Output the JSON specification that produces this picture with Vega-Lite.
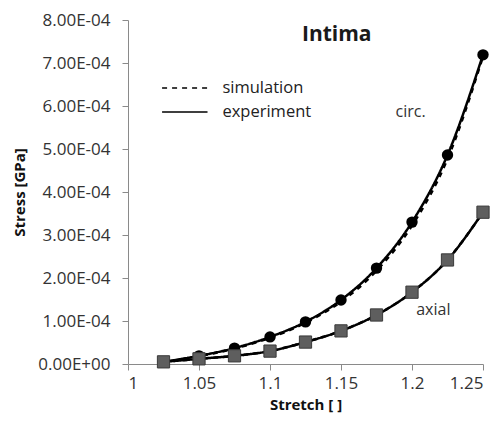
{
  "$schema": "https://vega.github.io/schema/vega-lite/v6.json",
  "width": 355,
  "height": 344,
  "autosize": {"type": "none"},
  "padding": {"left": 128, "top": 20, "right": 20, "bottom": 65},
  "background": "white",
  "config": {
    "view": {"stroke": null},
    "font": "Open Sans",
    "axis": {"grid": false, "domainColor": "#8a8a8a", "tickColor": "#8a8a8a", "tickSize": 6, "labelFontSize": 17, "labelColor": "#333", "titleFontSize": 15, "titleFontWeight": "bold", "titleColor": "#111", "labelFont": "Open Sans", "titleFont": "Open Sans"}
  },
  "datasets": {
    "curves": [
      {"x": 1.025, "y": 0.000005, "curve": "circ", "type": "experiment"},
      {"x": 1.05, "y": 0.000019, "curve": "circ", "type": "experiment"},
      {"x": 1.075, "y": 0.000037, "curve": "circ", "type": "experiment"},
      {"x": 1.1, "y": 0.000063, "curve": "circ", "type": "experiment"},
      {"x": 1.125, "y": 0.000098, "curve": "circ", "type": "experiment"},
      {"x": 1.15, "y": 0.000149, "curve": "circ", "type": "experiment"},
      {"x": 1.175, "y": 0.000223, "curve": "circ", "type": "experiment"},
      {"x": 1.2, "y": 0.00033, "curve": "circ", "type": "experiment"},
      {"x": 1.225, "y": 0.000486, "curve": "circ", "type": "experiment"},
      {"x": 1.25, "y": 0.000719, "curve": "circ", "type": "experiment"},
      {"x": 1.025, "y": 0.000005, "curve": "axial", "type": "experiment"},
      {"x": 1.05, "y": 0.000012, "curve": "axial", "type": "experiment"},
      {"x": 1.075, "y": 0.000019, "curve": "axial", "type": "experiment"},
      {"x": 1.1, "y": 0.00003, "curve": "axial", "type": "experiment"},
      {"x": 1.125, "y": 0.000051, "curve": "axial", "type": "experiment"},
      {"x": 1.15, "y": 0.000077, "curve": "axial", "type": "experiment"},
      {"x": 1.175, "y": 0.000114, "curve": "axial", "type": "experiment"},
      {"x": 1.2, "y": 0.000167, "curve": "axial", "type": "experiment"},
      {"x": 1.225, "y": 0.000242, "curve": "axial", "type": "experiment"},
      {"x": 1.25, "y": 0.000353, "curve": "axial", "type": "experiment"},
      {"x": 1.025, "y": 0.000004, "curve": "circ", "type": "simulation"},
      {"x": 1.05, "y": 0.000018, "curve": "circ", "type": "simulation"},
      {"x": 1.075, "y": 0.000036, "curve": "circ", "type": "simulation"},
      {"x": 1.1, "y": 0.000061, "curve": "circ", "type": "simulation"},
      {"x": 1.125, "y": 0.000096, "curve": "circ", "type": "simulation"},
      {"x": 1.15, "y": 0.000145, "curve": "circ", "type": "simulation"},
      {"x": 1.175, "y": 0.000217, "curve": "circ", "type": "simulation"},
      {"x": 1.2, "y": 0.000322, "curve": "circ", "type": "simulation"},
      {"x": 1.225, "y": 0.000477, "curve": "circ", "type": "simulation"},
      {"x": 1.25, "y": 0.000715, "curve": "circ", "type": "simulation"},
      {"x": 1.025, "y": 0.000005, "curve": "axial", "type": "simulation"},
      {"x": 1.05, "y": 0.000012, "curve": "axial", "type": "simulation"},
      {"x": 1.075, "y": 0.000019, "curve": "axial", "type": "simulation"},
      {"x": 1.1, "y": 0.00003, "curve": "axial", "type": "simulation"},
      {"x": 1.125, "y": 0.000051, "curve": "axial", "type": "simulation"},
      {"x": 1.15, "y": 0.000077, "curve": "axial", "type": "simulation"},
      {"x": 1.175, "y": 0.000114, "curve": "axial", "type": "simulation"},
      {"x": 1.2, "y": 0.000167, "curve": "axial", "type": "simulation"},
      {"x": 1.225, "y": 0.000242, "curve": "axial", "type": "simulation"},
      {"x": 1.25, "y": 0.000353, "curve": "axial", "type": "simulation"}
    ],
    "legendRows": [
      {"type": "simulation", "x": 1.024, "x2": 1.056, "y": 0.000642, "tx": 1.0665},
      {"type": "experiment", "x": 1.024, "x2": 1.056, "y": 0.000586, "tx": 1.0665}
    ],
    "titles": [
      {"x": 1.147, "y": 0.000765, "text": "Intima"}
    ],
    "notes": [
      {"x": 1.199, "y": 0.000586, "text": "circ."},
      {"x": 1.215, "y": 0.000126, "text": "axial"}
    ]
  },
  "layer": [
    {
      "data": {"name": "curves"},
      "mark": {"type": "line", "interpolate": "monotone", "color": "black", "strokeWidth": 2.5},
      "encoding": {
        "x": {"field": "x", "type": "quantitative", "scale": {"domain": [1, 1.25], "nice": false}, "axis": {"values": [1, 1.05, 1.1, 1.15, 1.2, 1.25], "format": "~g", "title": "Stretch [ ]", "labelPadding": 5, "titlePadding": 6}},
        "y": {"field": "y", "type": "quantitative", "scale": {"domain": [0, 0.0008], "nice": false}, "axis": {"values": [0, 0.0001, 0.0002, 0.0003, 0.0004, 0.0005, 0.0006, 0.0007, 0.0008], "labelExpr": "datum.value == 0 ? '0.00E+00' : format(datum.value * 10000, '.2f') + 'E-04'", "title": "Stress [GPa]", "labelPadding": 12, "titlePadding": 10}},
        "detail": {"field": "curve"},
        "strokeDash": {"field": "type", "type": "nominal", "scale": {"domain": ["simulation", "experiment"], "range": [[5, 5], [1, 0]]}, "legend": null}
      }
    },
    {
      "data": {"name": "legendRows"},
      "mark": {"type": "rule", "color": "black", "strokeWidth": 1.5},
      "encoding": {
        "x": {"field": "x", "type": "quantitative"},
        "x2": {"field": "x2"},
        "y": {"field": "y", "type": "quantitative"},
        "strokeDash": {"field": "type", "type": "nominal"}
      }
    },
    {
      "data": {"name": "legendRows"},
      "mark": {"type": "text", "align": "left", "baseline": "middle", "color": "#222", "fontSize": 16.5},
      "encoding": {
        "x": {"field": "tx", "type": "quantitative"},
        "y": {"field": "y", "type": "quantitative"},
        "text": {"field": "type"}
      }
    },
    {
      "data": {"name": "curves"},
      "transform": [{"filter": "datum.type == 'experiment' && datum.curve == 'circ'"}],
      "mark": {"type": "point", "shape": "circle", "filled": true, "opacity": 1, "color": "black", "size": 130},
      "encoding": {
        "x": {"field": "x", "type": "quantitative"},
        "y": {"field": "y", "type": "quantitative"}
      }
    },
    {
      "data": {"name": "curves"},
      "transform": [{"filter": "datum.type == 'experiment' && datum.curve == 'axial'"}],
      "mark": {"type": "point", "shape": "square", "filled": true, "opacity": 1, "color": "#5e5e5e", "stroke": "#3a3a3a", "strokeWidth": 1, "size": 150},
      "encoding": {
        "x": {"field": "x", "type": "quantitative"},
        "y": {"field": "y", "type": "quantitative"}
      }
    },
    {
      "data": {"name": "titles"},
      "mark": {"type": "text", "align": "center", "baseline": "middle", "color": "#1a1a1a", "fontSize": 21, "fontWeight": "bold"},
      "encoding": {
        "x": {"field": "x", "type": "quantitative"},
        "y": {"field": "y", "type": "quantitative"},
        "text": {"field": "text"}
      }
    },
    {
      "data": {"name": "notes"},
      "mark": {"type": "text", "align": "center", "baseline": "middle", "color": "#333", "fontSize": 16},
      "encoding": {
        "x": {"field": "x", "type": "quantitative"},
        "y": {"field": "y", "type": "quantitative"},
        "text": {"field": "text"}
      }
    }
  ]
}
